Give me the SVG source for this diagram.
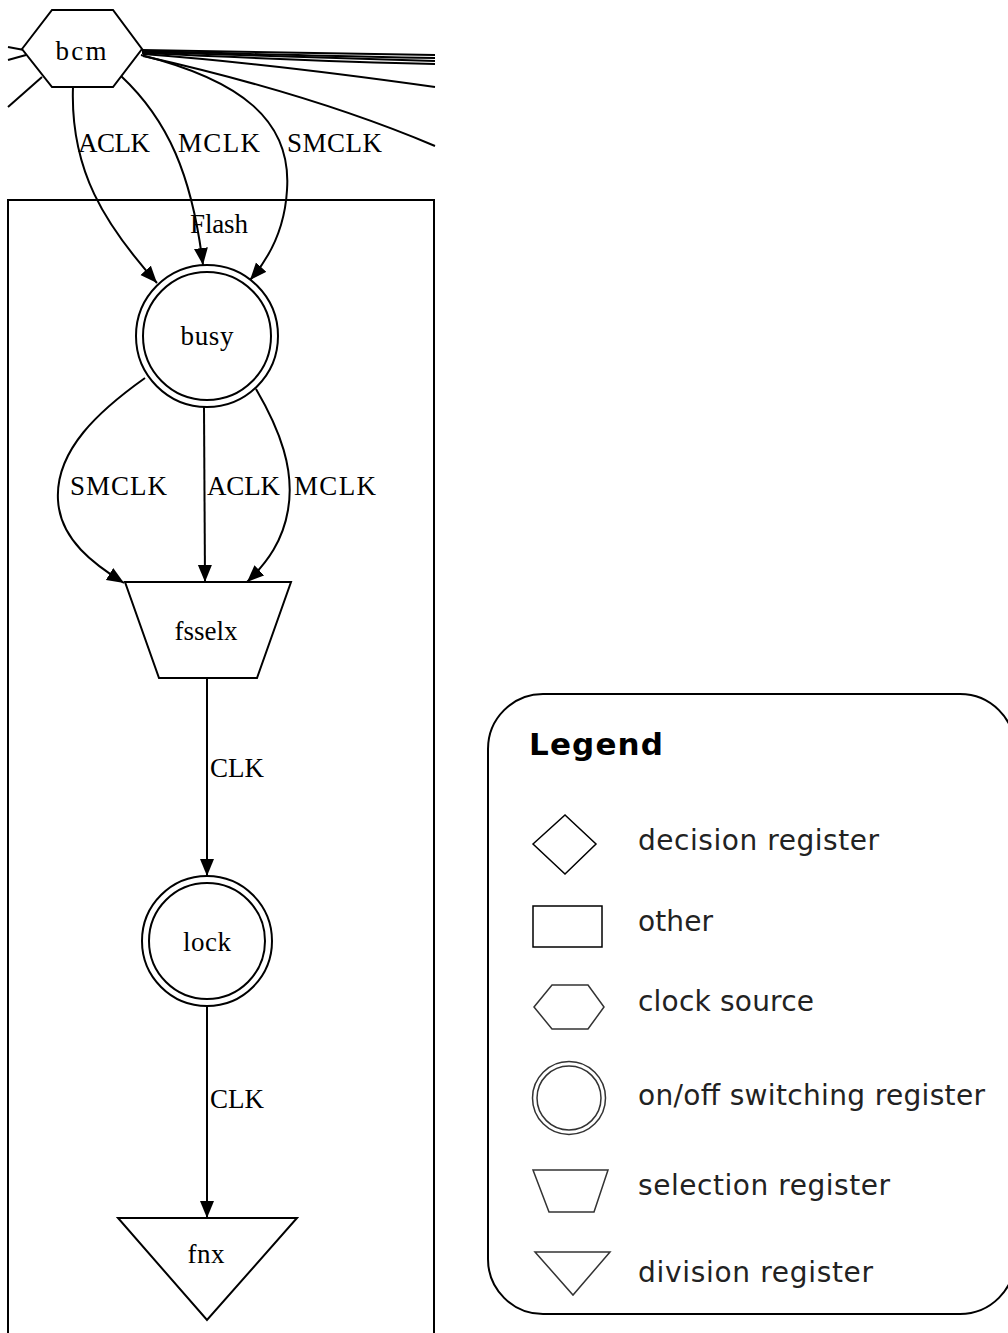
<svg xmlns="http://www.w3.org/2000/svg" width="1008" height="1333" viewBox="0 0 1008 1333">
<style>
.g{font-family:"Liberation Serif","Times New Roman",serif;font-size:27px;fill:#000;text-anchor:middle}
.el{font-family:"Liberation Serif","Times New Roman",serif;font-size:27px;fill:#000}
.n{fill:#fff;stroke:#000;stroke-width:2}
.e{fill:none;stroke:#000;stroke-width:2}
.lt{font-family:"DejaVu Sans","Liberation Sans",sans-serif;font-size:28px;fill:#222}
.ls{fill:#fff;stroke:#333;stroke-width:1.5}
</style>
<defs>
<marker id="ah" markerUnits="userSpaceOnUse" markerWidth="18" markerHeight="15" refX="17" refY="7" orient="auto">
<path d="M0,0 L17,7 L0,14 z" fill="#000"/>
</marker>
</defs>
<rect width="1008" height="1333" fill="#fff"/>
<g id="cluster-flash">
<rect x="8" y="200" width="426" height="1160" fill="none" stroke="#000" stroke-width="2"/>
<text class="g" x="219" y="233" textLength="58" style="font-size:27px">Flash</text>
</g>
<g id="connectors">
<path class="e" d="M8,47 L24,50"/>
<path class="e" d="M8,60 L26,55"/>
<path class="e" d="M42,77 L8,107"/>
<path class="e" d="M142,50 C250,52 350,54 435,55"/>
<path class="e" d="M142,51 C250,54 350,57 435,58"/>
<path class="e" d="M142,52 C250,56 350,59 435,61"/>
<path class="e" d="M142,53 C250,58 350,62 435,64"/>
<path class="e" d="M143,54 C250,62 350,75 435,87"/>
<path class="e" d="M143,56 C250,80 350,110 435,146"/>
<path class="e" d="M73,87 C70,170 105,225 157,283" marker-end="url(#ah)"/>
<text class="el" x="78" y="152" textLength="72">ACLK</text>
<path class="e" d="M121,76 C168,120 192,175 203,265" marker-end="url(#ah)"/>
<text class="el" x="178" y="152" textLength="82">MCLK</text>
<path class="e" d="M141,55 C240,80 292,120 287,190 C285,225 272,255 250,280" marker-end="url(#ah)"/>
<text class="el" x="287" y="152" textLength="95">SMCLK</text>
<path class="e" d="M145,378 C100,410 55,450 58,500 C60,540 95,565 124,583" marker-end="url(#ah)"/>
<text class="el" x="70" y="495" textLength="97">SMCLK</text>
<path class="e" d="M204,407 L205,582" marker-end="url(#ah)"/>
<text class="el" x="207" y="495" textLength="73">ACLK</text>
<path class="e" d="M256,389 C280,430 295,470 288,510 C283,540 268,562 247,582" marker-end="url(#ah)"/>
<text class="el" x="294" y="495" textLength="82">MCLK</text>
<path class="e" d="M207,678 L207,876" marker-end="url(#ah)"/>
<text class="el" x="210" y="777" textLength="54">CLK</text>
<path class="e" d="M207,1006 L207,1218" marker-end="url(#ah)"/>
<text class="el" x="210" y="1108" textLength="54">CLK</text>
</g>
<g id="node-bcm">
<polygon class="n" points="22,49 52,10 113,10 142,49 113,87 52,87"/>
<text class="g" x="81" y="60" textLength="51">bcm</text>
</g>
<g id="node-busy">
<circle class="n" cx="207" cy="336" r="71"/>
<circle class="n" cx="207" cy="336" r="64"/>
<text class="g" x="207" y="345" textLength="53">busy</text>
</g>
<g id="node-fsselx">
<polygon class="n" points="125,582 291,582 257,678 159,678"/>
<text class="g" x="206" y="640" textLength="63">fsselx</text>
</g>
<g id="node-lock">
<circle class="n" cx="207" cy="941" r="65"/>
<circle class="n" cx="207" cy="941" r="58"/>
<text class="g" x="207" y="951" textLength="48">lock</text>
</g>
<g id="node-fnx">
<polygon class="n" points="118,1218 297,1218 207,1320"/>
<text class="g" x="206" y="1263" textLength="37">fnx</text>
</g>
<g id="legend">
<rect x="488" y="694" width="527" height="620" rx="55" ry="55" fill="#fff" stroke="#000" stroke-width="2"/>
<text x="529" y="755" font-family="'DejaVu Sans','Liberation Sans',sans-serif" font-weight="bold" font-size="31" fill="#000" textLength="134">Legend</text>
<polygon class="ls" points="533,844 565,815 596,844 565,874" style="stroke:#000"/>
<text class="lt" x="638" y="850" textLength="241">decision register</text>
<rect class="ls" x="533" y="906" width="69" height="41" style="stroke:#000"/>
<text class="lt" x="638" y="931" textLength="75">other</text>
<polygon class="ls" points="534,1007 552,985 588,985 604,1007 588,1029 552,1029"/>
<text class="lt" x="638" y="1011" textLength="176">clock source</text>
<circle class="ls" cx="569" cy="1098" r="36.5"/>
<circle class="ls" cx="569" cy="1098" r="32"/>
<text class="lt" x="638" y="1105" textLength="347">on/off switching register</text>
<polygon class="ls" points="533,1170 608,1170 594,1212 549,1212"/>
<text class="lt" x="638" y="1195" textLength="252">selection register</text>
<polygon class="ls" points="535,1252 610,1252 573,1295"/>
<text class="lt" x="638" y="1282" textLength="235">division register</text>
</g>
</svg>
